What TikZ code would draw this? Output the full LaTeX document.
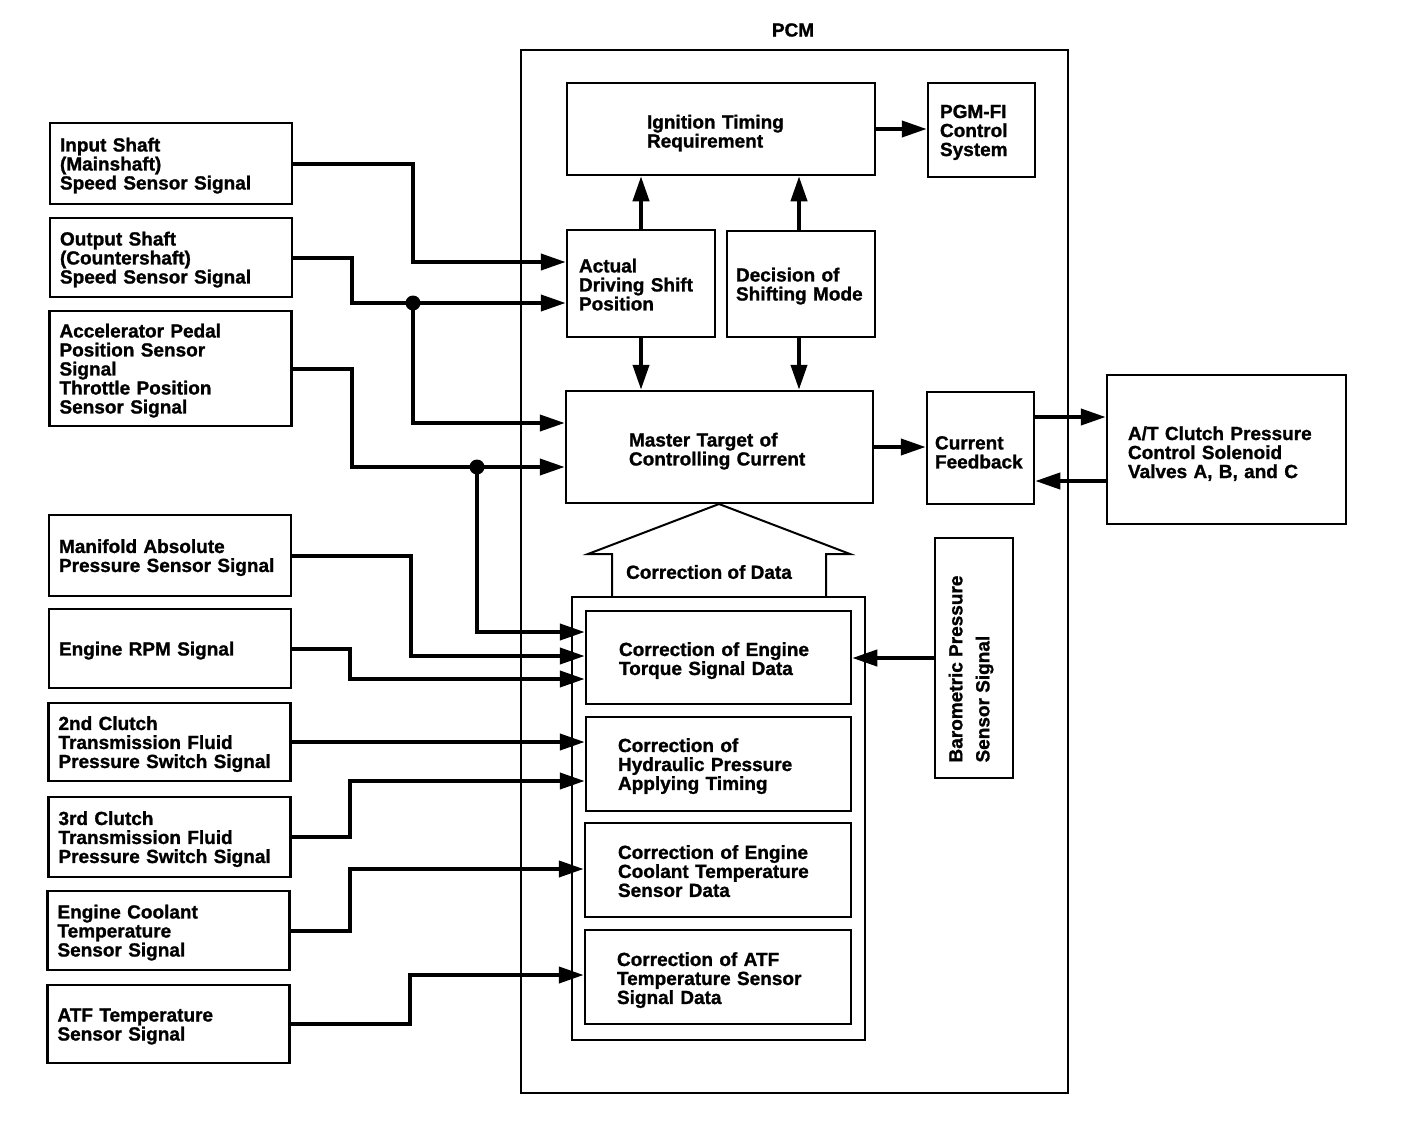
\documentclass[tikz,border=0pt]{standalone}
\usepackage{fontspec}
\setmainfont{Liberation Sans}[BoldFeatures={FakeBold=1.2}]
\usetikzlibrary{arrows.meta}
\tikzset{
  x=1pt, y=-1pt,
  every node/.style={font=\bfseries\fontsize{19}{19}\selectfont},
  box/.style={draw, line width=2.5pt, rectangle, align=left, inner ysep=0pt, text height=22pt},
  lbox/.style={draw, line width=2.5pt, rectangle, align=left, text width=222pt, inner xsep=10pt, inner ysep=0pt, text height=18pt},
  conn/.style={line width=4pt, -{Triangle[length=25pt,width=16pt]}, line join=miter},
  dot/.style={circle, fill, inner sep=0pt, minimum size=15pt},
  frame/.style={draw, line width=2pt, rectangle, inner sep=0pt}
}
\begin{document}
\begin{tikzpicture}
\useasboundingbox (0,0) rectangle (1408,1146);
% PCM frame
\node[frame, minimum width=547pt, minimum height=1043pt] (pcm) at (794.5,571.5) {};
\node (pcmlabel) at (793,30) {PCM};
% left input boxes
\node[lbox, minimum height=81pt] (in1) at (171,163.5) {Input Shaft\\(Mainshaft)\\Speed Sensor Signal};
\node[lbox, minimum height=79pt] (in2) at (171,257.5) {Output Shaft\\(Countershaft)\\Speed Sensor Signal};
\node[lbox, minimum height=115pt] (in3) at (170.5,368.5) {Accelerator Pedal\\Position Sensor\\Signal\\Throttle Position\\Sensor Signal};
\node[lbox, minimum height=81pt] (in4) at (170,555.5) {Manifold Absolute\\Pressure Sensor Signal};
\node[lbox, minimum height=79pt] (in5) at (170,648.5) {Engine RPM Signal};
\node[lbox, minimum height=78pt] (in6) at (169.5,742) {2nd Clutch\\Transmission Fluid\\Pressure Switch Signal};
\node[lbox, minimum height=80pt] (in7) at (169.5,837) {3rd Clutch\\Transmission Fluid\\Pressure Switch Signal};
\node[lbox, minimum height=79pt] (in8) at (168.5,930.5) {Engine Coolant\\Temperature\\Sensor Signal};
\node[lbox, minimum height=78pt] (in9) at (168.5,1024) {ATF Temperature\\Sensor Signal};
% PCM inner boxes (inner xsep = left text indent, text width = width - 2 indent)
\node[box, minimum height=92pt, inner xsep=80pt, text width=148pt] (ign) at (721,129) {Ignition Timing\\Requirement};
\node[box, minimum height=94pt, inner xsep=12pt, text width=83pt, text height=18pt] (pgm) at (981.5,130) {PGM-FI\\Control\\System};
\node[box, minimum height=107pt, inner xsep=12pt, text width=124pt, text height=16pt] (act) at (641,283.5) {Actual\\Driving Shift\\Position};
\node[box, minimum height=106pt, inner xsep=9pt, text width=130pt, text height=18pt] (dec) at (801,284) {Decision of\\Shifting Mode};
\node[box, minimum height=112pt, inner xsep=63pt, text width=181pt] (mt) at (719.5,447) {Master Target of\\Controlling Current};
\node[box, minimum height=112pt, inner xsep=8pt, text width=91pt] (cf) at (980.5,448) {Current\\Feedback};
\node[box, minimum height=149pt, inner xsep=21pt, text width=197pt] (at) at (1226.5,449.5) {A/T Clutch Pressure\\Control Solenoid\\Valves A, B, and C};
% correction of data
\draw[line width=2pt, line join=miter] (612,597) -- (612,554) -- (588,554) -- (719,504) -- (850,554) -- (826,554) -- (826,597);
\node (cod) at (709,572) {Correction of Data};
\node[frame, minimum width=293pt, minimum height=443pt] (corr) at (718.5,818.5) {};
\node[box, minimum height=93pt, inner xsep=33pt, text width=199pt, text height=20pt] (et) at (718.5,657.5) {Correction of Engine\\Torque Signal Data};
\node[box, minimum height=94pt, inner xsep=32pt, text width=201pt, text height=18pt] (hp) at (718.5,764) {Correction of\\Hydraulic Pressure\\Applying Timing};
\node[box, minimum height=94pt, inner xsep=33pt, text width=200pt, text height=16pt] (ect) at (718,870) {Correction of Engine\\Coolant Temperature\\Sensor Data};
\node[box, minimum height=94pt, inner xsep=32pt, text width=202pt, text height=20pt] (atf) at (718,977) {Correction of ATF\\Temperature Sensor\\Signal Data};
% barometric
\node[draw, line width=2.5pt, minimum width=78pt, minimum height=240pt] (baro) at (974,658) {};
\node[rotate=90, align=left, font=\bfseries\fontsize{19}{27}\selectfont] (barotext) at (971,669) {Barometric Pressure\\Sensor Signal};
% junction dots
\node[dot] (j1) at (413,303) {};
\node[dot] (j2) at (477,467) {};
% connectors from inputs
\draw[conn] (in1.east) -| (413,262) -- (act.west |- 0,262);
\draw[conn] (in2.east) -| (352,303) -- (act.west |- 0,303);
\draw[conn] (j1.center) |- (mt.west |- 0,423);
\draw[conn] (in3.east) -| (352,467) -- (mt.west |- 0,467);
\draw[conn] (j2.center) |- (et.west |- 0,632);
\draw[conn] (in4.east) -| (411,656) -- (et.west |- 0,656);
\draw[conn] (in5.east) -| (350,679) -- (et.west |- 0,679);
\draw[conn] (in6.east) -- (hp.west |- in6.east);
\draw[conn] (in7.east) -| (350,781) -- (hp.west |- 0,781);
\draw[conn] (in8.east) -| (350,869) -- (ect.west |- 0,869);
\draw[conn] (in9.east) -| (410,975) -- (atf.west |- 0,975);
% internal connectors
\draw[conn] (act.north) -- (act.north |- ign.south);
\draw[conn] (dec.north -| 799,0) -- (799,0 |- ign.south);
\draw[conn] (act.south) -- (act.south |- mt.north);
\draw[conn] (dec.south -| 799,0) -- (799,0 |- mt.north);
\draw[conn] (ign.east) -- (pgm.west |- ign.east);
\draw[conn] (mt.east) -- (cf.west |- mt.east);
\draw[conn] (cf.east |- 0,417) -- (at.west |- 0,417);
\draw[conn] (at.west |- 0,481) -- (cf.east |- 0,481);
\draw[conn] (baro.west) -- (et.east |- baro.west);
\end{tikzpicture}
\end{document}
